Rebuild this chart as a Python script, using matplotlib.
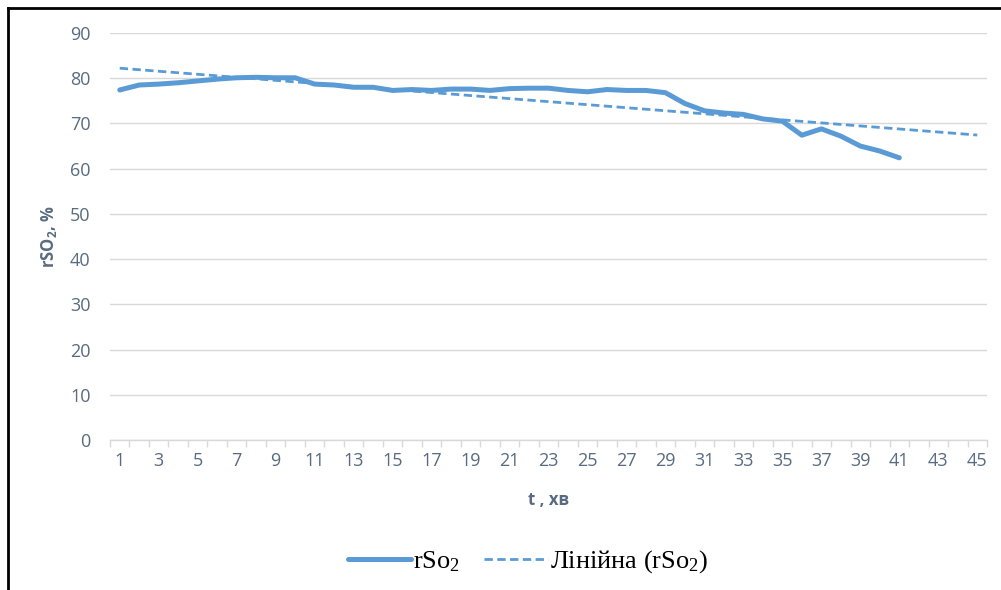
import numpy as np
import matplotlib
matplotlib.use("Agg")
import matplotlib.pyplot as plt
from matplotlib.lines import Line2D

# rSO2 readings per minute
minutes = list(range(1, 42))
rso2 = [77.4, 78.5, 78.7, 79.0, 79.4, 79.8, 80.1, 80.2, 80.1, 80.1,
        78.7, 78.5, 78.0, 78.0, 77.3, 77.5, 77.3, 77.6, 77.6, 77.3,
        77.7, 77.8, 77.8, 77.3, 77.0, 77.5, 77.3, 77.3, 76.8, 74.4,
        72.8, 72.3, 72.0, 71.0, 70.5, 67.4, 68.8, 67.2, 65.0, 63.9,
        62.4]
n_categories = 45
y_ticks = [0, 10, 20, 30, 40, 50, 60, 70, 80, 90]

blue = '#5b9bd5'
label_col = '#586b80'
grid_col = '#d9d9d9'

plt.rcParams['font.family'] = ['Open Sans', 'DejaVu Sans']
plt.rcParams['mathtext.default'] = 'regular'

fig = plt.figure(figsize=(10.01, 5.90), dpi=100)
ax = fig.add_axes([110 / 1001, 1 - 440 / 590, 877 / 1001, 407 / 590])

ax.plot(minutes, rso2, color=blue, lw=3.6, solid_capstyle='round',
        solid_joinstyle='round', label='rSo$_2$', zorder=3)

# linear trend, forecast to the last category like Excel
k, b = np.polyfit(minutes, rso2, 1)
xs = np.array([1, n_categories])
ax.plot(xs, k * xs + b, color=blue, lw=2.0, ls=(0, (3, 1.6)),
        label='Лінійна (rSo$_2$)', zorder=4)

ax.set_xlim(0.5, n_categories + 0.5)
ax.set_ylim(0, 90)
ax.set_yticks(y_ticks)
ax.yaxis.grid(True, color=grid_col, lw=1)
ax.set_axisbelow(True)

ax.set_xticks(np.arange(0.5, n_categories + 1, 1))
ax.set_xticklabels([])
ax.set_xticks(range(1, n_categories + 1, 2), minor=True)
ax.set_xticklabels([str(i) for i in range(1, n_categories + 1, 2)], minor=True)
ax.tick_params(axis='x', which='major', length=5, color=grid_col, width=1)
ax.tick_params(axis='x', which='minor', length=0, pad=9, labelsize=13,
               labelcolor=label_col)
ax.tick_params(axis='y', length=0, pad=14, labelsize=13, labelcolor=label_col)

for s in ['top', 'right', 'left']:
    ax.spines[s].set_visible(False)
ax.spines['bottom'].set_color(grid_col)
ax.spines['bottom'].set_linewidth(1)

ax.set_xlabel('t , хв', fontsize=12, fontweight='bold', color=label_col,
              labelpad=15)
ax.set_ylabel('rSO$_2$, %', fontsize=12, fontweight='bold', color=label_col,
              labelpad=8)

leg = ax.legend(loc='center', bbox_to_anchor=(528 / 1001, 1 - 562 / 590),
                bbox_transform=fig.transFigure, ncol=2, frameon=False,
                handlelength=2.4, handletextpad=0.1, columnspacing=0.9,
                prop={'family': 'Liberation Serif', 'size': 19})

# outer frame (left and top edges visible in the source)
fig.add_artist(Line2D([8 / 1001, 8 / 1001], [0, 1 - 8 / 590],
                      transform=fig.transFigure, color='black', lw=2))
fig.add_artist(Line2D([8 / 1001, 1], [1 - 8 / 590, 1 - 8 / 590],
                      transform=fig.transFigure, color='black', lw=2))

fig.savefig('out.png', dpi=100)
